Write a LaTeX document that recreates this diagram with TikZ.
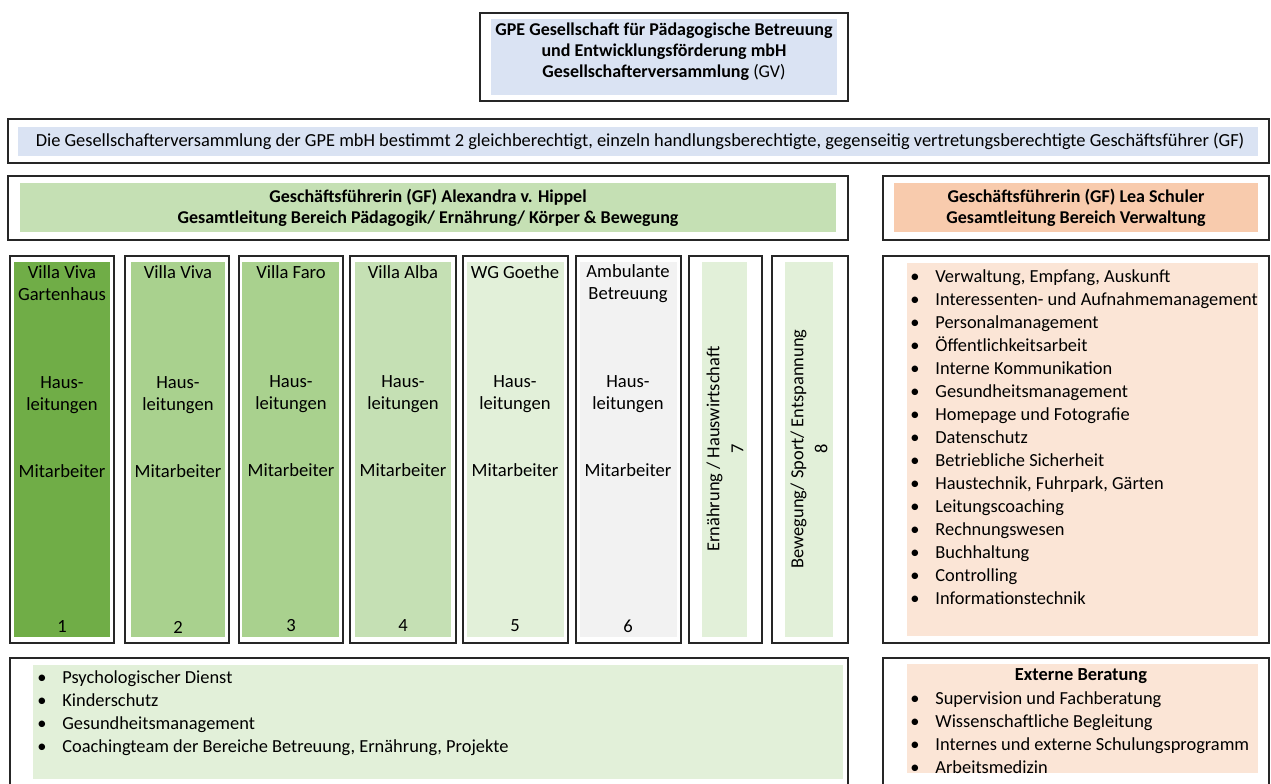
\documentclass[tikz,border=0pt]{standalone}
\usepackage{fontspec}
\setmainfont{Carlito}
\definecolor{gvblue}{HTML}{DAE3F3}
\definecolor{gfgreen}{HTML}{C5E0B4}
\definecolor{gforange}{HTML}{F8CBAD}
\definecolor{housedark}{HTML}{70AD47}
\definecolor{housemid}{HTML}{A9D18E}
\definecolor{housepale}{HTML}{E2F0D9}
\definecolor{housegrey}{HTML}{F2F2F2}
\definecolor{orangepale}{HTML}{FBE5D6}
\newcommand{\itm}[1]{\makebox[12.5pt][l]{\textbullet}#1}
\tikzset{
  frame/.style={draw=black!85, line width=0.7pt},
  headtxt/.style={inner sep=0pt, align=center, font=\fontsize{9.0}{10.6}\selectfont\bfseries},
  coltxt/.style={inner sep=0pt, align=center, font=\fontsize{9.3}{11}\selectfont},
  itemtxt/.style={inner sep=0pt, anchor=west, text height=1.6ex, text depth=0.4ex, font=\fontsize{9.2}{11}\selectfont}
}
\begin{document}
\begin{tikzpicture}[x=0.5pt, y=-0.5pt]
      \useasboundingbox (0,0) rectangle (1271,783);
      \clip (0,0) rectangle (1271,783);
      \draw[frame] (480,13) rectangle (848,101);
      \fill[gvblue] (491,19) rectangle (837,95);
      \node[headtxt] (gv) at (664,52) {GPE Gesellschaft für Pädagogische Betreuung\\und Entwicklungsförderung mbH\\Gesellschafterversammlung {\mdseries(GV)}};
      \draw[frame] (8,119) rectangle (1269,163);
      \fill[gvblue] (18,127) rectangle (1258,156);
      \node[coltxt, font=\fontsize{9.2}{10}\selectfont] (gvnote) at (640,141) {Die Gesellschafterversammlung der GPE mbH bestimmt 2 gleichberechtigt, einzeln handlungsberechtigte, gegenseitig vertretungsberechtigte Geschäftsführer (GF)};
      \draw[frame] (8,176) rectangle (848,240);
      \fill[gfgreen] (20,183) rectangle (836,232);
      \node[headtxt] (gfpaed) at (428,208) {Geschäftsführerin (GF) Alexandra v. Hippel\\Gesamtleitung Bereich Pädagogik/ Ernährung/ Körper \& Bewegung};
      \draw[frame] (883,176) rectangle (1269,240);
      \fill[gforange] (894,183) rectangle (1258,232);
      \node[headtxt] (gfverw) at (1076,208) {Geschäftsführerin (GF) Lea Schuler\\Gesamtleitung Bereich Verwaltung};
      \draw[frame] (10,256) rectangle (114,643);
      \fill[housedark] (14,262) rectangle (110,637);
      \draw[frame] (125,256) rectangle (229,643);
      \fill[housemid] (131,262) rectangle (225,637);
      \draw[frame] (239,256) rectangle (343,643);
      \fill[housemid] (242,262) rectangle (339,637);
      \draw[frame] (350,256) rectangle (456,643);
      \fill[gfgreen] (355,262) rectangle (451,637);
      \draw[frame] (463,256) rectangle (568,643);
      \fill[housepale] (467,262) rectangle (564,637);
      \draw[frame] (576,256) rectangle (681,643);
      \fill[housegrey] (580,262) rectangle (677,637);
      \draw[frame] (689,256) rectangle (762,643);
      \fill[housepale] (702,262) rectangle (747,637);
      \draw[frame] (772,256) rectangle (848,643);
      \fill[housepale] (785,262) rectangle (833,637);
      \node[coltxt] (h1) at (62,283.5) {Villa Viva\\Gartenhaus};
      \node[coltxt] (h2) at (178,272) {Villa Viva};
      \node[coltxt] (h3) at (291,272) {Villa Faro};
      \node[coltxt] (h4) at (403,272) {Villa Alba};
      \node[coltxt] (h5) at (515,272) {WG Goethe};
      \node[coltxt] (h6) at (628,283.5) {Ambulante\\Betreuung};
      \node[coltxt] (l1) at (62,395) {Haus-\\leitungen};
      \node[coltxt] (l2) at (178,395) {Haus-\\leitungen};
      \node[coltxt] (l3) at (291,394) {Haus-\\leitungen};
      \node[coltxt] (l4) at (403,394) {Haus-\\leitungen};
      \node[coltxt] (l5) at (515,394) {Haus-\\leitungen};
      \node[coltxt] (l6) at (628,394) {Haus-\\leitungen};
      \node[coltxt] (m1) at (62,471) {Mitarbeiter};
      \node[coltxt] (m2) at (178,471) {Mitarbeiter};
      \node[coltxt] (m3) at (291,470) {Mitarbeiter};
      \node[coltxt] (m4) at (403,470) {Mitarbeiter};
      \node[coltxt] (m5) at (515,470) {Mitarbeiter};
      \node[coltxt] (m6) at (628,470) {Mitarbeiter};
      \node[coltxt] (n1) at (62,627) {1};
      \node[coltxt] (n2) at (178,627) {2};
      \node[coltxt] (n3) at (291,626) {3};
      \node[coltxt] (n4) at (403,626) {4};
      \node[coltxt] (n5) at (515,626) {5};
      \node[coltxt] (n6) at (628,626) {6};
      \node[coltxt, rotate=90, font=\fontsize{9.2}{12}\selectfont] (n7) at (725,449) {Ernährung / Hauswirtschaft\\7};
      \node[coltxt, rotate=90, font=\fontsize{9.2}{12}\selectfont] (n8) at (809,449) {Bewegung/ Sport/ Entspannung\\8};
      \draw[frame] (883,256) rectangle (1269,643);
      \fill[orangepale] (907,263) rectangle (1258,636);
      \foreach \t [count=\i] in {{Verwaltung, Empfang, Auskunft}, Interessenten- und Aufnahmemanagement,
          Personalmanagement, Öffentlichkeitsarbeit, Interne Kommunikation, Gesundheitsmanagement,
          Homepage und Fotografie, Datenschutz, Betriebliche Sicherheit, {Haustechnik, Fuhrpark, Gärten},
          Leitungscoaching, Rechnungswesen, Buchhaltung, Controlling, Informationstechnik}
        \node[itemtxt] (verw\i) at (910,254+23*\i) {\itm{\t}};
      \draw[frame] (10,790) -- (10,658) -- (848,658) -- (848,790);
      \fill[housepale] (33,665) rectangle (843,779);
      \foreach \t [count=\i] in {Psychologischer Dienst, Kinderschutz, Gesundheitsmanagement,
          {Coachingteam der Bereiche Betreuung, Ernährung, Projekte}}
        \node[itemtxt] (paed\i) at (37,655+23*\i) {\itm{\t}};
      \draw[frame] (883,790) -- (883,658) -- (1269,658) -- (1269,790);
      \fill[orangepale] (907,664) rectangle (1258,773);
      \node[headtxt, font=\fontsize{9.2}{11}\selectfont\bfseries] (ext) at (1081,676) {Externe Beratung};
      \foreach \t [count=\i] in {Supervision und Fachberatung, Wissenschaftliche Begleitung,
          Internes und externe Schulungsprogramm, Arbeitsmedizin}
        \node[itemtxt] (ext\i) at (910,676+23*\i) {\itm{\t}};
    \end{tikzpicture}
\end{document}
